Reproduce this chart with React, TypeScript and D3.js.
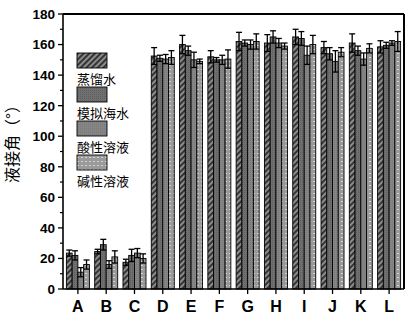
import React from "react";
import * as d3 from "d3";

const categories = ["A", "B", "C", "D", "E", "F", "G", "H", "I", "J", "K", "L"];
const seriesNames = ["蒸馏水", "模拟海水", "酸性溶液", "碱性溶液"];
const distilled = [23.5, 24.5, 17.5, 152.5, 160, 152, 162, 161, 165, 158, 161, 158.5];
const seawater = [22, 29, 22, 151, 156, 150, 161, 165, 164, 154, 156, 159.5];
const acid = [11, 16, 23.5, 150.5, 150, 150, 160, 161, 153, 149, 150.5, 161];
const alkali = [16, 21, 20, 151.5, 149, 150.5, 162, 159, 160, 155, 157.5, 162];
const distilledErr = [2, 1.5, 2, 5.5, 6, 4, 6, 5.5, 5, 4, 6, 4];
const seawaterErr = [3, 3.5, 4, 2, 3, 1.5, 2, 4, 4.5, 4, 3, 2];
const acidErr = [3, 2.5, 3, 3, 5, 3, 3, 3, 6, 7, 4, 1.5];
const alkaliErr = [3, 4, 3, 4.5, 1.5, 6, 5, 2, 6, 3, 3, 6.5];
const yTicks = [0, 20, 40, 60, 80, 100, 120, 140, 160, 180];

const seriesValues = [distilled, seawater, acid, alkali];
const seriesErrors = [distilledErr, seawaterErr, acidErr, alkaliErr];
const fills = ["url(#p1)", "url(#p2)", "url(#p3)", "url(#p4)"];

export default function App() {
  const W = 412, H = 318;
  const left = 63, right = 404, top = 14, bottom = 289;
  const x = d3.scaleBand<string>().domain(categories).range([left, right]).paddingInner(0.187).paddingOuter(0.12);
  const xs = d3.scaleBand<string>().domain(seriesNames).range([0, x.bandwidth()]).padding(0);
  const y = d3.scaleLinear().domain([0, 180]).range([bottom, top]);
  const minor = d3.range(10, 180, 20);
  const tickFont = "Arial, 'Liberation Sans', sans-serif";
  const cjk = "'Noto Sans CJK SC', sans-serif";

  return (
    <svg width={W} height={H} style={{ position: "absolute", left: 0, top: 0, background: "#fff" }}>
      <defs>
        <pattern id="p1" patternUnits="userSpaceOnUse" width="4" height="4" patternTransform="rotate(45)">
          <rect width="4" height="4" fill="#8c8c8c" />
          <rect width="1.8" height="4" fill="#2b2b2b" />
        </pattern>
        <pattern id="p2" patternUnits="userSpaceOnUse" width="2" height="2">
          <rect width="2" height="2" fill="#707070" />
          <rect width="1" height="1" fill="#5e5e5e" />
        </pattern>
        <pattern id="p3" patternUnits="userSpaceOnUse" width="2" height="2">
          <rect width="2" height="2" fill="#858585" />
          <rect width="1" height="1" fill="#7a7a7a" />
        </pattern>
        <pattern id="p4" patternUnits="userSpaceOnUse" width="4" height="4">
          <rect width="4" height="4" fill="#9a9a9a" />
          <rect x="1" y="1" width="2" height="1" fill="#d4d4d4" />
        </pattern>
      </defs>

      {categories.map((c, i) => (
        <g key={c}>
          {seriesNames.map((s, j) => {
            const v = seriesValues[j][i];
            const bx = (x(c) as number) + (xs(s) as number);
            return (
              <rect key={s} x={bx} y={y(v)} width={xs.bandwidth()} height={y(0) - y(v)}
                fill={fills[j]} stroke="#000" strokeWidth={0.9} />
            );
          })}
          {seriesNames.map((s, j) => {
            const v = seriesValues[j][i];
            const e = seriesErrors[j][i];
            const cx = (x(c) as number) + (xs(s) as number) + xs.bandwidth() / 2;
            return (
              <g key={s} stroke="#000" strokeWidth={1.3}>
                <line x1={cx} x2={cx} y1={y(v + e)} y2={y(v - e)} />
                <line x1={cx - 3} x2={cx + 3} y1={y(v + e)} y2={y(v + e)} />
                <line x1={cx - 3} x2={cx + 3} y1={y(v - e)} y2={y(v - e)} />
              </g>
            );
          })}
        </g>
      ))}

      {/* frame */}
      <line x1={left} x2={right} y1={top} y2={top} stroke="#000" strokeWidth={2} />
      <line x1={right} x2={right} y1={top} y2={bottom} stroke="#000" strokeWidth={2} />
      <line x1={left} x2={left} y1={top} y2={bottom} stroke="#000" strokeWidth={1.6} />
      <line x1={left} x2={right} y1={bottom} y2={bottom} stroke="#000" strokeWidth={1.6} />

      {/* y ticks */}
      {yTicks.map((t) => (
        <g key={t}>
          <line x1={left - 5} x2={left} y1={y(t)} y2={y(t)} stroke="#000" strokeWidth={1.3} />
          <text x={left - 8} y={y(t)} dy="0.36em" textAnchor="end" fontFamily={tickFont}
            fontWeight="bold" fontSize={13.5} fill="#000">{t}</text>
        </g>
      ))}
      {minor.map((t) => (
        <line key={t} x1={left - 3} x2={left} y1={y(t)} y2={y(t)} stroke="#000" strokeWidth={1.2} />
      ))}

      {/* x ticks */}
      {categories.map((c) => {
        const cx = (x(c) as number) + x.bandwidth() / 2;
        return (
          <g key={c}>
            <line x1={cx} x2={cx} y1={bottom} y2={bottom + 5} stroke="#000" strokeWidth={1.3} />
            <text x={cx} y={312} textAnchor="middle" fontFamily={tickFont} fontWeight="bold"
              fontSize={16} fill="#000">{c}</text>
          </g>
        );
      })}

      {/* y title */}
      <text transform={`translate(18,${140}) rotate(-90)`} textAnchor="middle" fontFamily={cjk}
        fontSize={16} fill="#000">液接角（°）</text>

      {/* legend */}
      {seriesNames.map((s, j) => {
        const ty = 53 + j * 34;
        return (
          <g key={s}>
            <rect x={77} y={ty} width={30} height={15} fill={fills[j]} stroke="#000" strokeWidth={0.9} />
            <text x={77} y={ty + 26.5} dy="0.36em" fontFamily={cjk} fontSize={13} fill="#000">{s}</text>
          </g>
        );
      })}
    </svg>
  );
}
